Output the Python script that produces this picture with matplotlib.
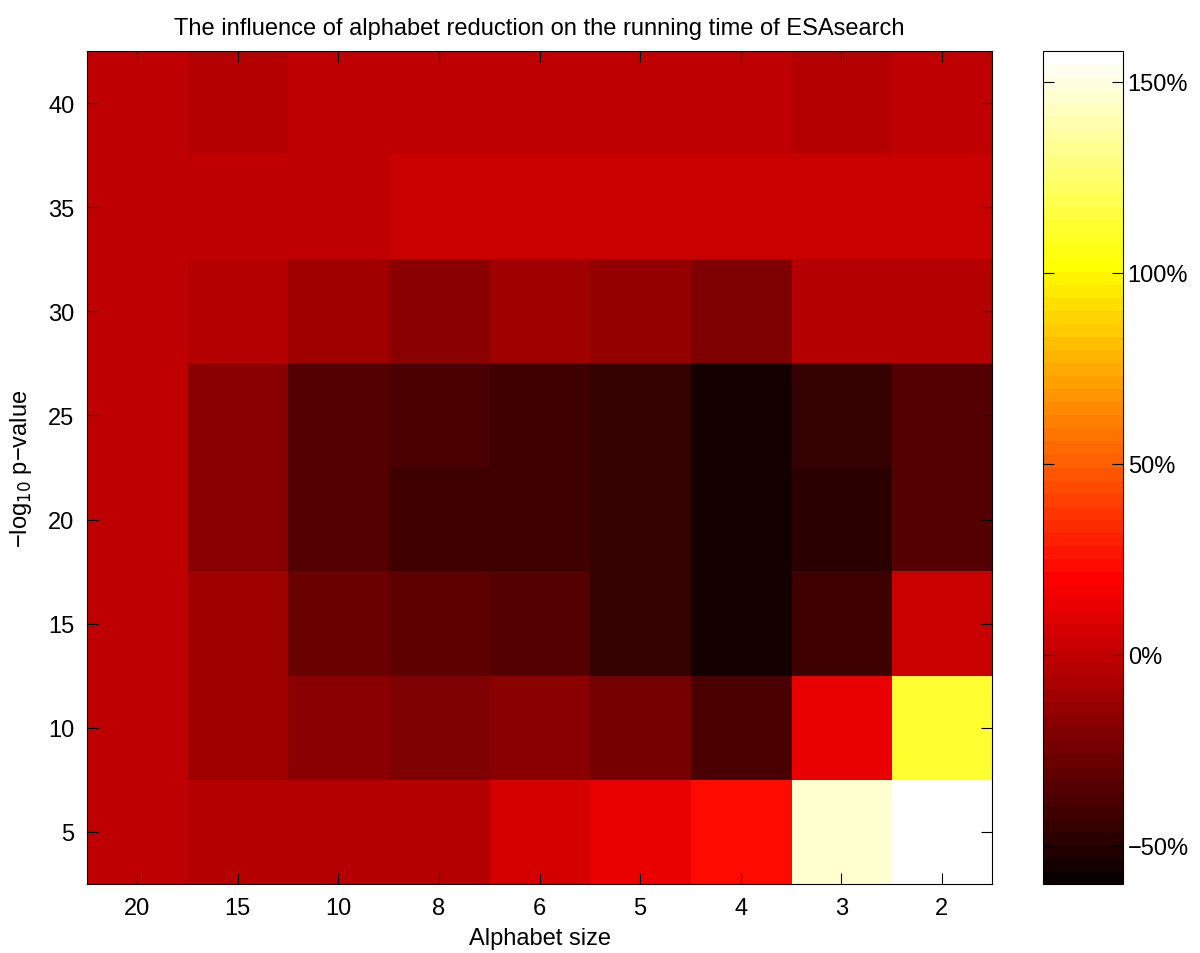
import numpy as np
import matplotlib
matplotlib.use("Agg")
import matplotlib.pyplot as plt

plt.rcParams['font.family'] = ['Liberation Sans', 'DejaVu Sans']

alphabet = ['20', '15', '10', '8', '6', '5', '4', '3', '2']
pvals = [5, 10, 15, 20, 25, 30, 35, 40]

# running time change in %, rows from p-value 5 (bottom) up to 40 (top)
change = np.array([
    [0.9, -2.3, -4.2, -2.3, 8.0, 13.7, 24.0, 147.0, 158.0],       # 5
    [0.9, -11.3, -16.4, -21.5, -16.4, -22.8, -38.2, 14.4, 112.0],  # 10
    [0.9, -11.9, -26.0, -30.5, -33.1, -43.3, -53.6, -42.0, 4.1],   # 15
    [0.9, -16.4, -33.7, -42.0, -40.8, -45.9, -56.2, -49.7, -35.6], # 20
    [0.9, -15.8, -34.4, -38.2, -40.8, -43.3, -53.6, -43.3, -35.6], # 25
    [0.9, -4.2, -11.9, -16.4, -11.9, -15.1, -20.2, -4.2, -2.3],    # 30
    [0.9, 0.9, 0.9, 4.1, 4.1, 4.1, 1.6, 4.1, 4.1],                 # 35
    [0.9, -3.6, 0.9, 0.9, 0.9, 0.9, 0.3, -2.3, 0.9],               # 40
])
cb_ticks = [-50, 0, 50, 100, 150]
cb_labels = ['\u221250%', '0%', '50%', '100%', '150%']

fig = plt.figure(figsize=(12, 9.54), dpi=100)
ax = fig.add_axes([0.0725, 0.0723, 0.7542, 0.8732])
cax = fig.add_axes([0.869, 0.0723, 0.0667, 0.8732])

im = ax.imshow(change, origin='lower', aspect='auto', cmap=plt.get_cmap('hot', 64),
               vmin=-60, vmax=158, extent=[0.5, len(alphabet) + 0.5, 2.5, 42.5],
               interpolation='nearest')

ax.set_xticks(np.arange(1, len(alphabet) + 1))
ax.set_xticklabels(alphabet)
ax.set_yticks(pvals)
ax.tick_params(direction='in', top=True, right=True, length=8, labelsize=17, pad=9)
ax.set_xlabel('Alphabet size', fontsize=17, labelpad=6)
ax.set_ylabel('\u2212log$_{10}$ p\u2212value', fontsize=17, labelpad=10)
ax.set_title('The influence of alphabet reduction on the running time of ESAsearch',
             fontsize=17, pad=12)

cb = fig.colorbar(im, cax=cax, ticks=cb_ticks)
cb.ax.set_yticklabels(cb_labels)
cb.ax.tick_params(direction='in', left=True, right=True, length=8, labelsize=17)
cb.outline.set_linewidth(0.8)

fig.savefig('out.png', dpi=100)
